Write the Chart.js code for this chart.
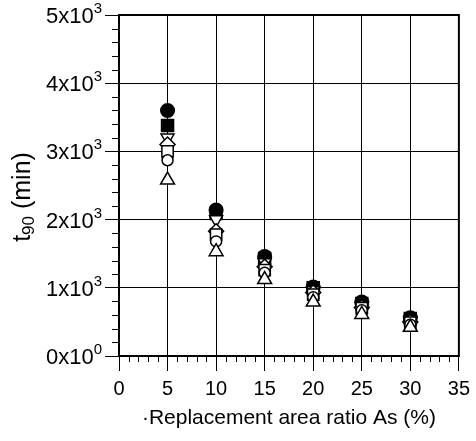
<!DOCTYPE html>
<html>
<head>
<meta charset="utf-8">
<title>t90 vs replacement area ratio</title>
<script src="https://cdn.jsdelivr.net/npm/chart.js"></script>
<style>
  body { margin: 0; background: #fff; }
  #wrap { width: 476px; height: 441px; }
</style>
</head>
<body>
<div id="wrap"><canvas id="chart" width="476" height="441"></canvas></div>
<script>
// replacement area ratio As (%)
const ratios = [5, 10, 15, 20, 25, 30];

// t90 (min), one array per marker type
const filledCircle = [3600, 2140, 1460, 1010, 790, 560];
const filledSquare = [3380, 2090, 1430, 1000, 770, 550];
const openDownTri  = [3200, 2000, 1370, 960, 730, 520];
const openDiamond  = [3100, 1830, 1310, 930, 710, 500];
const openSquare   = [3000, 1780, 1260, 900, 700, 490];
const openCircle   = [2870, 1680, 1220, 860, 670, 460];
const openUpTri    = [2580, 1530, 1120, 790, 610, 420];

// y tick labels "Nx10^e"
const yTickValues   = [0, 1000, 2000, 3000, 4000, 5000];
const yTickMantissa = ['0', '1', '2', '3', '4', '5'];
const yTickExponent = ['0', '3', '3', '3', '3', '3'];

const FONT = 'Liberation Sans, Arial, sans-serif';

function pts(arr) {
  return arr.map((v, i) => ({ x: ratios[i], y: v }));
}

function ds(label, arr, style, fill, radius, rotation) {
  return {
    label: label,
    data: pts(arr),
    pointStyle: style,
    pointRadius: radius,
    pointHoverRadius: radius,
    pointRotation: rotation || 0,
    pointBackgroundColor: fill,
    pointBorderColor: '#000',
    pointBorderWidth: 1.5,
    showLine: false
  };
}

const extras = {
  id: 'extras',
  afterDatasetsDraw(chart) {
    const ctx = chart.ctx;
    const a = chart.chartArea;
    const xs = chart.scales.x;
    const ys = chart.scales.y;
    ctx.save();
    ctx.strokeStyle = '#000';

    // frame
    ctx.lineWidth = 2;
    ctx.strokeRect(a.left, a.top, a.right - a.left, a.bottom - a.top);

    // minor ticks
    ctx.lineWidth = 1;
    ctx.beginPath();
    for (let v = 0; v <= 35; v++) {
      if (v % 5 === 0) continue;
      const px = Math.round(xs.getPixelForValue(v)) + 0.5;
      ctx.moveTo(px, a.bottom);
      ctx.lineTo(px, a.bottom + 6);
    }
    for (let v = 0; v <= 5000; v += 200) {
      if (v % 1000 === 0) continue;
      const py = Math.round(ys.getPixelForValue(v)) + 0.5;
      ctx.moveTo(a.left - 7, py);
      ctx.lineTo(a.left, py);
    }
    ctx.stroke();

    // y tick labels with superscript
    ctx.fillStyle = '#000';
    ctx.textBaseline = 'alphabetic';
    const rightEdge = 102;
    yTickValues.forEach((v, i) => {
      const py = ys.getPixelForValue(v);
      ctx.font = '15px ' + FONT;
      const supW = ctx.measureText(yTickExponent[i]).width;
      ctx.textAlign = 'right';
      ctx.fillText(yTickExponent[i], rightEdge, py - 2);
      ctx.font = '22px ' + FONT;
      ctx.fillText(yTickMantissa[i] + 'x10', rightEdge - supW, py + 8);
    });

    // y title t90 (min) with subscript
    ctx.translate(21, 197);
    ctx.rotate(-Math.PI / 2);
    ctx.textAlign = 'left';
    ctx.font = '25px ' + FONT;
    const wT = ctx.measureText('t').width;
    const wRest = ctx.measureText(' (min)').width;
    ctx.font = '17px ' + FONT;
    const wSub = ctx.measureText('90').width;
    let x0 = -(wT + wSub + wRest) / 2;
    ctx.font = '25px ' + FONT;
    ctx.fillText('t', x0, 9);
    ctx.font = '17px ' + FONT;
    ctx.fillText('90', x0 + wT, 13);
    ctx.font = '25px ' + FONT;
    ctx.fillText(' (min)', x0 + wT + wSub, 9);
    ctx.restore();
  }
};

new Chart(document.getElementById('chart'), {
  type: 'scatter',
  data: {
    datasets: [
      ds('filled circle', filledCircle, 'circle', '#000', 6.8),
      ds('filled square', filledSquare, 'rect', '#000', 8.5),
      ds('open down triangle', openDownTri, 'triangle', '#fff', 7.5, 180),
      ds('open diamond', openDiamond, 'rectRot', '#fff', 7.5),
      ds('open square', openSquare, 'rect', '#fff', 8),
      ds('open circle', openCircle, 'circle', '#fff', 5.5),
      ds('open up triangle', openUpTri, 'triangle', '#fff', 8)
    ].reverse()
  },
  options: {
    responsive: false,
    animation: false,
    layout: { padding: { top: 15, right: 14, left: 0, bottom: 0 } },
    plugins: {
      legend: { display: false },
      tooltip: { enabled: false }
    },
    scales: {
      x: {
        type: 'linear',
        min: 0,
        max: 35,
        afterFit(scale) { scale.height = 85; },
        ticks: {
          stepSize: 5,
          color: '#000',
          font: { family: FONT, size: 20 },
          padding: 6,
          maxRotation: 0
        },
        grid: { color: '#000', lineWidth: 1, tickLength: 15 },
        border: { color: '#000', width: 2 },
        title: {
          display: true,
          text: '\u00b7Replacement area ratio As (%)',
          color: '#000',
          font: { family: FONT, size: 21 },
          padding: { top: 0, bottom: 10 }
        }
      },
      y: {
        type: 'linear',
        min: 0,
        max: 5000,
        afterFit(scale) { scale.width = 119; },
        ticks: {
          stepSize: 1000,
          callback: () => ''
        },
        grid: { color: '#000', lineWidth: 1, tickLength: 14 },
        border: { color: '#000', width: 2 }
      }
    }
  },
  plugins: [extras]
});
</script>
</body>
</html>
